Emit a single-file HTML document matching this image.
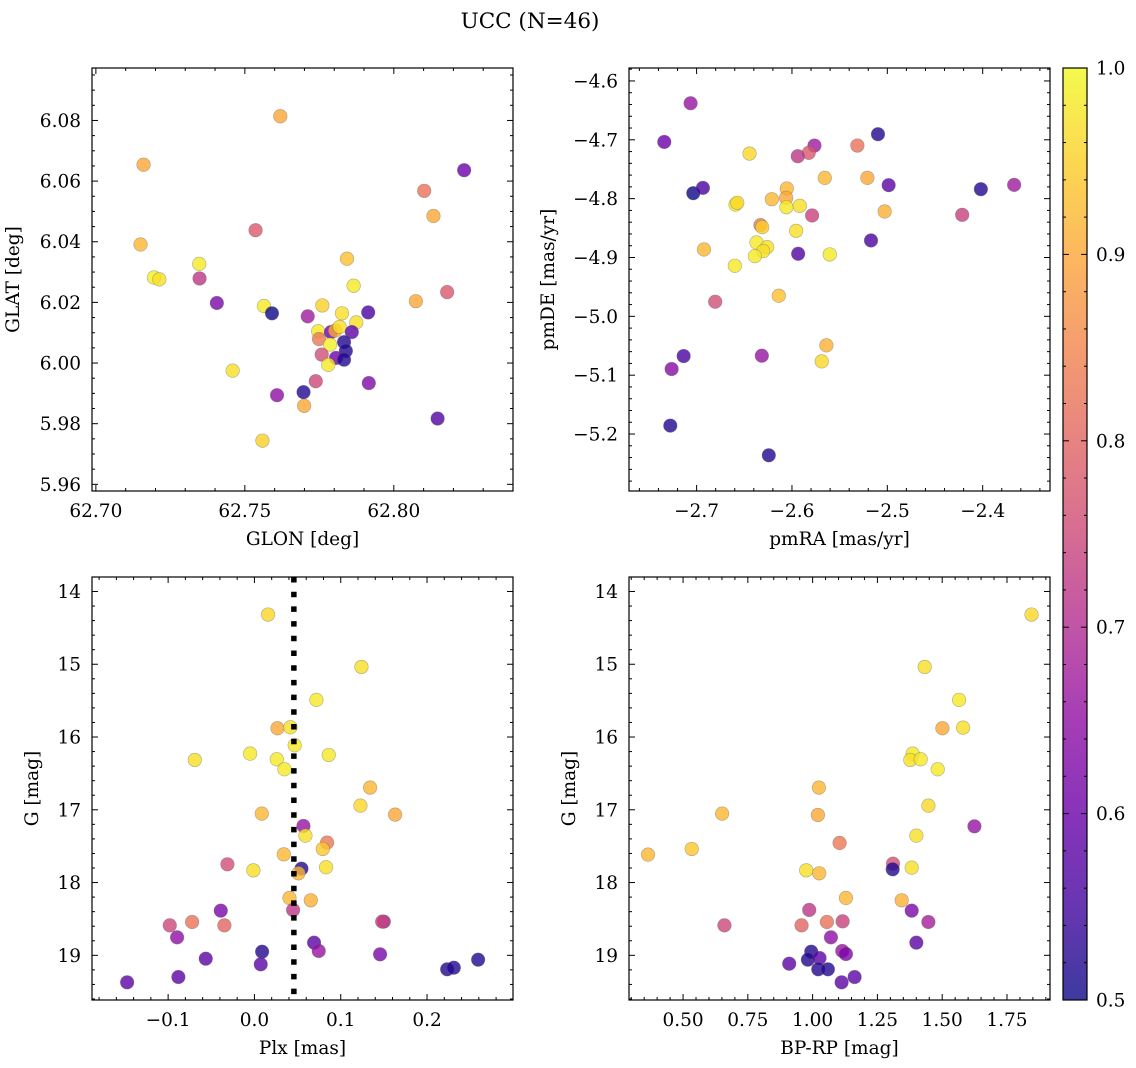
<!DOCTYPE html>
<html>
<head>
<meta charset="utf-8">
<style>
html,body{margin:0;padding:0;background:#fff;}
svg{display:block;font-family:"DejaVu Serif","Liberation Serif",serif;}
</style>
</head>
<body>
<svg id="fig" width="1136" height="1068" viewBox="0 0 1136 1068" xmlns="http://www.w3.org/2000/svg">
<rect x="0" y="0" width="1136" height="1068" fill="#fff"/>
<text x="530" y="28" font-size="21.5" text-anchor="middle">UCC (N=46)</text>
<defs>
<linearGradient id="plasmaGrad" x1="0" y1="1" x2="0" y2="0">
<stop offset="0" stop-color="#0d0887"/><stop offset="0.1" stop-color="#41049d"/><stop offset="0.2" stop-color="#6a00a8"/><stop offset="0.3" stop-color="#8f0da4"/><stop offset="0.4" stop-color="#b12a90"/><stop offset="0.5" stop-color="#cc4778"/><stop offset="0.6" stop-color="#e16462"/><stop offset="0.7" stop-color="#f2844b"/><stop offset="0.8" stop-color="#fca636"/><stop offset="0.9" stop-color="#fcce25"/><stop offset="1" stop-color="#f0f921"/>
</linearGradient>
</defs>
<g id="layer"></g>
</svg>
<script>
// ---- data ----
const glonTL=[62.7619,62.716,62.8236,62.8102,62.8133,62.7536,62.7150,62.7843,62.7347,62.7865,62.7195,62.7213,62.7348,62.8179,62.7406,62.8074,62.7564,62.7591,62.7760,62.7711,62.7826,62.7914,62.7874,62.7746,62.7789,62.7803,62.7818,62.7859,62.7749,62.7833,62.7786,62.7839,62.7758,62.7806,62.7833,62.7780,62.7459,62.7738,62.7916,62.7608,62.7697,62.7699,62.8147,62.7559];
const glatTL=[6.0814,6.0654,6.0636,6.0568,6.0485,6.0438,6.0391,6.0344,6.0327,6.0255,6.0282,6.0276,6.0279,6.0234,6.0198,6.0204,6.0188,6.0164,6.0190,6.0154,6.0164,6.0167,6.0134,6.0105,6.0102,6.0107,6.0119,6.0102,6.0079,6.0069,6.0061,6.0040,6.0028,6.0017,6.0011,5.9994,5.9975,5.9940,5.9934,5.9894,5.9904,5.9859,5.9817,5.9744];
const probTL=[0.9,0.9,0.6,0.82,0.9,0.78,0.92,0.93,0.98,0.98,0.99,0.97,0.72,0.78,0.62,0.9,0.98,0.5,0.95,0.67,0.97,0.56,0.97,0.98,0.6,0.9,0.97,0.58,0.83,0.52,0.99,0.52,0.76,0.6,0.52,0.98,0.97,0.75,0.63,0.65,0.52,0.9,0.57,0.95];

const pmraTR=[-2.7063,-2.7339,-2.5098,-2.6445,-2.5764,-2.5824,-2.5939,-2.5314,-2.5656,-2.5209,-2.4986,-2.4019,-2.3670,-2.7035,-2.6934,-2.6054,-2.6061,-2.6211,-2.6592,-2.6574,-2.6058,-2.5918,-2.5028,-2.5789,-2.4215,-2.6330,-2.6312,-2.5956,-2.5171,-2.6372,-2.6260,-2.6302,-2.6389,-2.6923,-2.5935,-2.5604,-2.6599,-2.6138,-2.6805,-2.5639,-2.5688,-2.7136,-2.7262,-2.6316,-2.7276,-2.6243];
const pmdeTR=[-4.6379,-4.7036,-4.6905,-4.7234,-4.7098,-4.7222,-4.7279,-4.7098,-4.7647,-4.7647,-4.7771,-4.7839,-4.7766,-4.7907,-4.7817,-4.7828,-4.7986,-4.8009,-4.8100,-4.8071,-4.8145,-4.8122,-4.8218,-4.8286,-4.8275,-4.8450,-4.8484,-4.8547,-4.8711,-4.8745,-4.8824,-4.8892,-4.8977,-4.8864,-4.8937,-4.8948,-4.9141,-4.9650,-4.9752,-5.0493,-5.0765,-5.0675,-5.0895,-5.0669,-5.1857,-5.2361];
const probTR=[0.66,0.6,0.52,0.96,0.67,0.78,0.72,0.82,0.92,0.9,0.58,0.52,0.67,0.5,0.56,0.92,0.9,0.92,0.98,0.96,0.98,0.97,0.91,0.74,0.74,0.83,0.95,0.97,0.56,0.98,0.97,0.97,0.98,0.92,0.57,0.98,0.98,0.93,0.76,0.91,0.96,0.56,0.64,0.66,0.52,0.52];

const plxBL=[0.0158,0.124,0.0718,0.0267,0.0417,0.0467,-0.0050,0.0861,-0.0691,0.0259,0.0348,0.134,0.1228,0.163,0.0085,0.0568,0.0591,0.0842,0.0792,0.0340,-0.0313,-0.0012,0.0545,0.0830,0.0510,0.0406,0.0653,0.0448,-0.0390,0.1499,0.148,-0.0722,-0.0981,-0.0348,-0.0896,0.0691,0.0745,0.1456,0.0089,-0.0564,0.0073,0.2592,0.2233,0.2310,-0.0881,-0.1475];
const gmagBL=[14.317,15.037,15.490,15.880,15.866,16.113,16.228,16.246,16.315,16.306,16.443,16.695,16.943,17.066,17.053,17.222,17.355,17.451,17.538,17.612,17.749,17.832,17.809,17.790,17.873,18.212,18.244,18.377,18.386,18.537,18.537,18.542,18.588,18.588,18.753,18.826,18.940,18.986,18.950,19.046,19.124,19.060,19.192,19.170,19.298,19.371];
const probBL=[0.96,0.97,0.98,0.9,0.97,0.98,0.98,0.98,0.97,0.98,0.98,0.92,0.96,0.9,0.92,0.66,0.97,0.83,0.94,0.92,0.76,0.97,0.52,0.97,0.92,0.92,0.91,0.72,0.62,0.68,0.74,0.82,0.75,0.8,0.65,0.58,0.66,0.62,0.52,0.58,0.58,0.52,0.52,0.52,0.58,0.58];
const plxRef=0.0457;

const bprpBR=[1.8447,1.4325,1.5652,1.5008,1.5806,1.3861,1.3771,1.4170,1.4827,1.0242,1.4467,1.0203,0.6507,1.6244,1.4003,1.1041,0.5335,0.3648,1.3101,0.9753,1.3089,1.3823,1.0255,1.1285,1.3436,0.9869,1.3823,1.4467,1.1157,0.9572,1.0551,0.6597,1.0706,1.4003,1.1144,1.1285,0.9946,0.9096,0.9817,1.0268,1.0216,1.0590,1.1620,1.1118];
const gmagBR=[14.317,15.037,15.490,15.880,15.871,16.228,16.315,16.306,16.443,16.695,16.943,17.071,17.053,17.227,17.355,17.456,17.538,17.616,17.740,17.832,17.818,17.795,17.873,18.212,18.244,18.377,18.386,18.542,18.533,18.588,18.542,18.588,18.753,18.826,18.940,18.982,18.950,19.115,19.060,19.037,19.192,19.192,19.298,19.371];
const probBR=[0.96,0.97,0.98,0.9,0.97,0.98,0.97,0.98,0.98,0.92,0.96,0.9,0.92,0.66,0.97,0.83,0.94,0.92,0.76,0.97,0.52,0.97,0.92,0.92,0.91,0.72,0.62,0.68,0.74,0.8,0.82,0.75,0.65,0.58,0.66,0.62,0.52,0.58,0.52,0.58,0.52,0.52,0.58,0.58];

const cbarTicks=[0.5,0.6,0.7,0.8,0.9,1.0];

// ---- helpers ----
const NS="http://www.w3.org/2000/svg";
const layer=document.getElementById('layer');
const FS=18.5;
const plasma=[[13,8,135],[65,4,157],[106,0,168],[143,13,164],[177,42,144],[204,71,120],[225,100,98],[242,132,75],[252,166,54],[252,206,37],[240,249,33]];
function cmap(p){let t=(p-0.5)/0.5;t=Math.max(0,Math.min(1,t));const f=t*10;const i=Math.min(9,Math.floor(f));const r=f-i;const a=plasma[i],b=plasma[i+1];return 'rgb('+[0,1,2].map(k=>Math.round(a[k]+(b[k]-a[k])*r)).join(',')+')';}
function mk(tag,attrs,parent){const e=document.createElementNS(NS,tag);for(const k in attrs)e.setAttribute(k,attrs[k]);(parent||layer).appendChild(e);return e;}
function fmt(v,d){const s=Math.abs(v).toFixed(d);return (v< -1e-9?'\u2212':'')+s;}

function panel(name,box,xlim,ylim,xmaj,xmin,xd,ymaj,ymin,yd,xlabel,ylabel,ylabX,invertY){
  const g=mk('g',{});
  
  
  const sx=v=>box.x0+(v-xlim[0])/(xlim[1]-xlim[0])*(box.x1-box.x0);
  const sy=invertY?(v=>box.y0+(v-ylim[0])/(ylim[1]-ylim[0])*(box.y1-box.y0)):(v=>box.y1-(v-ylim[0])/(ylim[1]-ylim[0])*(box.y1-box.y0));
  const ticks=mk('g',{stroke:'#000','stroke-width':1},g);
  
  
  const xs=Math.ceil(xlim[0]/xmin-1e-6),xe=Math.floor(xlim[1]/xmin+1e-6);
  for(let i=xs;i<=xe;i++){const v=i*xmin;const isMaj=Math.abs(v/xmaj-Math.round(v/xmaj))<1e-6;const L=isMaj?6:3;const x=sx(v);
    mk('line',{x1:x,x2:x,y1:box.y1,y2:box.y1-L},ticks);mk('line',{x1:x,x2:x,y1:box.y0,y2:box.y0+L},ticks);
    if(isMaj){const t=mk('text',{x:x,y:box.y1+26,'font-size':FS,'text-anchor':'middle',stroke:'none',fill:'#000'},g);t.textContent=fmt(v,xd);}}
  const ys=Math.ceil(Math.min(ylim[0],ylim[1])/ymin-1e-6),ye=Math.floor(Math.max(ylim[0],ylim[1])/ymin+1e-6);
  for(let i=ys;i<=ye;i++){const v=i*ymin;const isMaj=Math.abs(v/ymaj-Math.round(v/ymaj))<1e-6;const L=isMaj?6:3;const y=sy(v);
    mk('line',{x1:box.x0,x2:box.x0+L,y1:y,y2:y},ticks);mk('line',{x1:box.x1,x2:box.x1-L,y1:y,y2:y},ticks);
    if(isMaj){const t=mk('text',{x:box.x0-11,y:y+6.5,'font-size':FS,'text-anchor':'end',fill:'#000'},g);t.textContent=fmt(v,yd);}}
  const xl=mk('text',{x:(box.x0+box.x1)/2,y:box.y1+54,'font-size':FS,'text-anchor':'middle'},g);xl.textContent=xlabel;
  
  const yc=(box.y0+box.y1)/2;
  const yl=mk('text',{x:ylabX,y:yc,'font-size':FS,'text-anchor':'middle',transform:'rotate(-90 '+ylabX+' '+yc+')'},g);yl.textContent=ylabel;
  
  return {g,sx,sy};
}
function scatter(p,xs,ys,ps){
  const cg=mk('g',{},p.g);
  
  
  for(let i=0;i<xs.length;i++){
    const c=mk('circle',{cx:p.sx(xs[i]),cy:p.sy(ys[i]),r:6.8,fill:cmap(ps[i]),'fill-opacity':0.8,stroke:'#666','stroke-opacity':0.5,'stroke-width':0.6},cg);
    
    
  }
}
function frame(p,box){const r=mk('rect',{x:box.x0,y:box.y0,width:box.x1-box.x0,height:box.y1-box.y0,fill:'none',stroke:'#000','stroke-width':1.2},p.g);
  }

// ---- panels ----
const bTL={x0:92,x1:513,y0:68,y1:491};
const pTL=panel('glon-glat-panel',bTL,[62.6987,62.8400],[5.9578,6.0973],0.05,0.01,2,0.02,0.005,2,'GLON [deg]','GLAT [deg]',19,false);
scatter(pTL,glonTL,glatTL,probTL);frame(pTL,bTL);

const bTR={x0:629,x1:1050,y0:68,y1:491};
const pTR=panel('proper-motion-panel',bTR,[-2.7709,-2.3294],[-5.2968,-4.578],0.1,0.02,1,0.1,0.02,1,'pmRA [mas/yr]','pmDE [mas/yr]',554,false);
scatter(pTR,pmraTR,pmdeTR,probTR);frame(pTR,bTR);

const bBL={x0:92,x1:513,y0:577,y1:1000};
const pBL=panel('parallax-mag-panel',bBL,[-0.1882,0.2996],[13.801,19.614],0.1,0.02,1,1,0.2,0,'Plx [mas]','G [mag]',38,true);
scatter(pBL,plxBL,gmagBL,probBL);
const vl=mk('line',{x1:pBL.sx(plxRef),x2:pBL.sx(plxRef),y1:bBL.y0,y2:bBL.y1,stroke:'#000','stroke-width':5.5,'stroke-dasharray':'5.5 9.2'},pBL.g);


frame(pBL,bBL);

const bBR={x0:629,x1:1050,y0:577,y1:1000};
const pBR=panel('color-magnitude-panel',bBR,[0.2914,1.916],[13.801,19.614],0.25,0.05,2,1,0.2,0,'BP-RP [mag]','G [mag]',575,true);
scatter(pBR,bprpBR,gmagBR,probBR);frame(pBR,bBR);

// ---- colorbar ----
const cb={x0:1063,x1:1087,y0:68,y1:1000};
const cbg=mk('g',{});


mk('rect',{x:cb.x0,y:cb.y0,width:cb.x1-cb.x0,height:cb.y1-cb.y0,fill:'url(#plasmaGrad)','fill-opacity':0.8},cbg);
const cy=v=>cb.y1-(v-0.5)/0.5*(cb.y1-cb.y0);
for(let i=25;i<=50;i++){const v=i*0.02;const isMaj=(i%5===0);const L=isMaj?6:3;const y=cy(v);
  mk('line',{x1:cb.x0,x2:cb.x0+L,y1:y,y2:y,stroke:'#000','stroke-width':1},cbg);
  mk('line',{x1:cb.x1,x2:cb.x1-L,y1:y,y2:y,stroke:'#000','stroke-width':1},cbg);}
cbarTicks.forEach(v=>{const t=mk('text',{x:cb.x1+9,y:cy(v)+6.5,'font-size':FS},cbg);t.textContent=v.toFixed(1);
  
  });
mk('rect',{x:cb.x0,y:cb.y0,width:cb.x1-cb.x0,height:cb.y1-cb.y0,fill:'none',stroke:'#000','stroke-width':1.2},cbg);
</script>
</body>
</html>
